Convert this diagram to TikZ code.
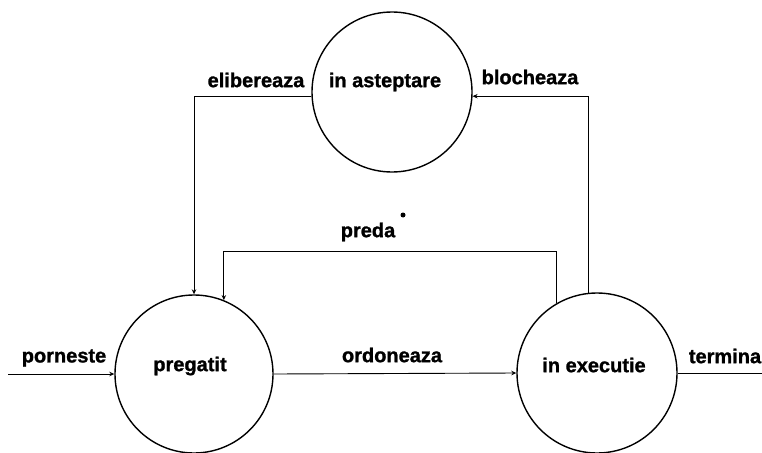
\documentclass[tikz,border=0pt]{standalone}
\usepackage{fontspec}
\setmainfont{Liberation Sans}[BoldFeatures={FakeBold=1.2}]
\usetikzlibrary{arrows.meta}
\begin{document}
\begin{tikzpicture}[x=1pt,y=-1pt,
  state/.style={draw,circle,line width=1.4pt,inner sep=0pt,minimum size=160pt},
  lbl/.style={font=\fontsize{20}{22}\selectfont\bfseries,inner sep=0pt,anchor=center},
  conn/.style={line width=0.9pt},
  arr/.style={conn,-{Stealth[length=5pt,width=4.5pt]}}]
\useasboundingbox (0,0) rectangle (762,452);
% states
\node[state] (wait) at (392,92) {};
\node[state,minimum size=158pt] (ready) at (194,374) {};
\node[state] (run) at (597,373) {};
\node[lbl] (waitT) at (385,82) {in asteptare};
\node[lbl] (readyT) at (190,366) {pregatit};
\node[lbl] (runT) at (594,365) {in executie};
% free ends
\coordinate (start) at (8,374);
\coordinate (stop) at (762,373);
\coordinate (pc) at (0,251);
% connectors
\draw[arr] (start) -- (ready.west);
\draw[arr] (ready.east) -- (run.west);
\draw[conn] (run.east) -- (stop);
\draw[arr] (wait.183) -| (ready.north);
\draw[arr] (run.96) |- (wait.-3);
\draw[arr] (run.120) -- (run.120 |- pc) -| (ready.68);
% connector labels
\node[lbl] (lPorn) at (64,358) {porneste};
\node[lbl] (lOrd) at (392,355) {ordoneaza};
\node[lbl] (lTerm) at (725,356) {termina};
\node[lbl] (lElib) at (256,80) {elibereaza};
\node[lbl] (lBloc) at (530,77) {blocheaza};
\node[lbl] (lPreda) at (368,232) {preda};
\fill (403,215) circle (2.5pt);
\end{tikzpicture}
\end{document}
